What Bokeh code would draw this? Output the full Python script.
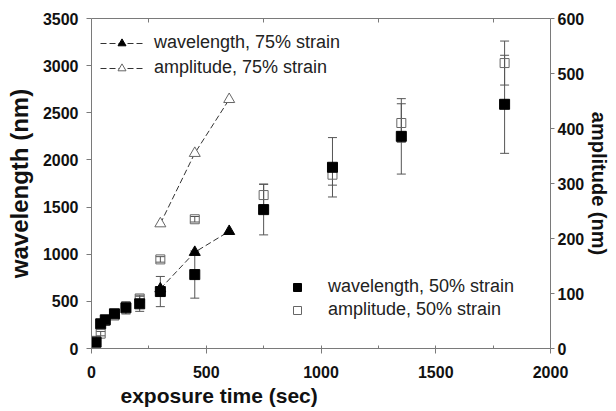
from bokeh.plotting import figure
from bokeh.models import (LinearAxis, Range1d, FixedTicker, Whisker, TeeHead, Title,
                          ColumnDataSource, Legend, LegendItem, SingleIntervalTicker)
from bokeh.embed import file_html
from bokeh.resources import INLINE

# ---- data: 50% strain ----
t50 = [20, 40, 60, 100, 150, 210, 300, 450, 750, 1050, 1350, 1800]
wl50 = [67, 262, 304, 368, 431, 474, 604, 784, 1473, 1922, 2250, 2590]
wl50_err = [20, 20, 25, 40, 65, 80, 160, 250, 268, 315, 400, 520]
amp50 = [14, 27, 50, 60, 76, 91, 162, 235, 279, 316, 410, 519]
amp50_err = [3, 4, 4, 4, 5, 6, 5, 5, 20, 19, 35, 40]

# ---- data: 75% strain ----
t75 = [300, 450, 600]
wl75 = [633, 1021, 1243]
amp75 = [227, 355, 453]

top_minor_ticks = [250, 750, 1250, 1750]

FONT = "Liberation Sans"
AXC = "#7a7a7a"
ERRC = "#555555"

p = figure(width=616, height=411, output_backend="svg", toolbar_location=None,
           x_range=Range1d(0, 2000), y_range=Range1d(0, 3500),
           min_border_left=91, min_border_right=66, min_border_top=18,
           min_border_bottom=63, x_axis_location=None, y_axis_location=None)
p.extra_y_ranges = {"amp": Range1d(0, 600)}
p.xgrid.visible = False
p.ygrid.visible = False
p.outline_line_color = None


def style(ax, label_size="20px"):
    ax.axis_line_color = AXC
    ax.major_tick_line_color = AXC
    ax.minor_tick_line_color = AXC
    ax.major_label_text_font = FONT
    ax.major_label_text_font_style = "bold"
    ax.major_label_text_font_size = "16px"
    ax.major_label_text_color = "#111111"
    ax.axis_label_text_font = FONT
    ax.axis_label_text_font_style = "bold"
    ax.axis_label_text_font_size = label_size
    ax.axis_label_text_color = "#111111"


xb = LinearAxis(ticker=SingleIntervalTicker(interval=500, num_minor_ticks=2))
style(xb)
xb.major_tick_out = 5
xb.major_tick_in = 0
xb.minor_tick_in = 3
xb.minor_tick_out = 0
xb.major_label_standoff = 12
p.add_layout(xb, "below")

p.add_layout(Title(text="exposure time (sec)", align="left", offset=29, standoff=2,
                   text_font=FONT, text_font_style="bold", text_font_size="21px",
                   text_color="#111111"), "below")

xt = LinearAxis(ticker=FixedTicker(ticks=[], minor_ticks=top_minor_ticks))
style(xt)
xt.major_tick_in = 0
xt.major_tick_out = 0
xt.minor_tick_in = 4
xt.minor_tick_out = 0
p.add_layout(xt, "above")

yl = LinearAxis(axis_label="wavelength (nm)",
                ticker=SingleIntervalTicker(interval=500, num_minor_ticks=0))
style(yl, "24px")
yl.major_tick_out = 5
yl.major_tick_in = 0
yl.major_label_standoff = 8
yl.axis_label_standoff = 7
p.add_layout(yl, "left")

yr = LinearAxis(axis_label="amplitude (nm)", y_range_name="amp",
                ticker=SingleIntervalTicker(interval=100, num_minor_ticks=0))
style(yr, "20px")
yr.major_tick_out = 4
yr.major_tick_in = 0
yr.major_label_standoff = 3
yr.axis_label_standoff = 1
p.add_layout(yr, "right")

src50 = ColumnDataSource(dict(
    t=t50, wl=wl50, amp=amp50,
    wl_lo=[v - e for v, e in zip(wl50, wl50_err)],
    wl_hi=[v + e for v, e in zip(wl50, wl50_err)],
    amp_lo=[v - e for v, e in zip(amp50, amp50_err)],
    amp_hi=[v + e for v, e in zip(amp50, amp50_err)],
))
src75 = ColumnDataSource(dict(t=t75, wl=wl75, amp=amp75))

for lo, hi, rn in [("wl_lo", "wl_hi", "default"), ("amp_lo", "amp_hi", "amp")]:
    w = Whisker(source=src50, base="t", lower=lo, upper=hi, y_range_name=rn,
                line_color=ERRC, line_width=1,
                upper_head=TeeHead(size=9, line_color=ERRC, line_width=1),
                lower_head=TeeHead(size=9, line_color=ERRC, line_width=1))
    p.add_layout(w)

# 75% strain lines + triangles
l_w75 = p.line("t", "wl", source=src75, line_color="#333333", line_dash="6 3", line_width=1)
s_w75 = p.scatter("t", "wl", source=src75, marker="triangle", size=11,
                  fill_color="black", line_color="black")
l_a75 = p.line("t", "amp", source=src75, y_range_name="amp", line_color="#333333",
               line_dash="6 3", line_width=1)
s_a75 = p.scatter("t", "amp", source=src75, y_range_name="amp", marker="triangle",
                  size=11, fill_color="white", line_color="#666666", line_width=1)

# 50% strain squares
s_a50 = p.scatter("t", "amp", source=src50, y_range_name="amp", marker="square",
                  size=9, fill_alpha=0, line_color="#666666", line_width=1)
s_w50 = p.scatter("t", "wl", source=src50, marker="square", size=10,
                  fill_color="black", line_color="black")

leg1 = Legend(items=[LegendItem(label="wavelength, 75% strain", renderers=[l_w75, s_w75]),
                     LegendItem(label="amplitude, 75% strain", renderers=[l_a75, s_a75])],
              location=(9, 270), border_line_color=None, background_fill_alpha=0,
              padding=0, margin=0, spacing=4, glyph_width=43, glyph_height=20,
              label_height=20, label_standoff=11, label_text_font=FONT,
              label_text_font_size="18px", label_text_color="#222222")
p.add_layout(leg1)

leg2 = Legend(items=[LegendItem(label="wavelength, 50% strain", renderers=[s_w50]),
                     LegendItem(label="amplitude, 50% strain", renderers=[s_a50])],
              location=(196, 28), border_line_color=None, background_fill_alpha=0,
              padding=0, margin=0, spacing=2, glyph_width=20, glyph_height=20,
              label_height=20, label_standoff=21, label_text_font=FONT,
              label_text_font_size="18px", label_text_color="#222222")
p.add_layout(leg2)

open("out.html", "w").write(file_html(p, INLINE))
